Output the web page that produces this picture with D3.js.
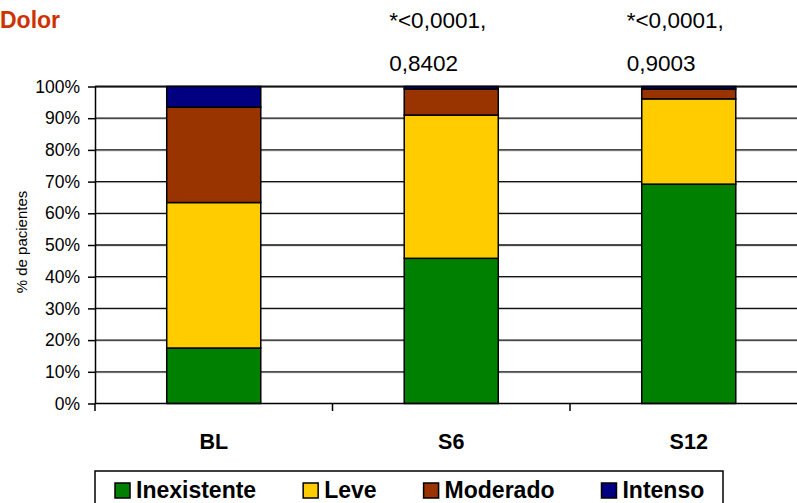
<!DOCTYPE html>
<html>
<head>
<meta charset="utf-8">
<script src="https://cdn.jsdelivr.net/npm/d3@7"></script>
<style>
  html, body { margin: 0; padding: 0; background: #fff; }
  svg { display: block; font-family: "Liberation Sans", Arial, sans-serif; }
</style>
</head>
<body>
<svg id="chart" width="797" height="503"></svg>
<script>
const categories = ["BL", "S6", "S12"];
const seriesNames = ["Inexistente", "Leve", "Moderado", "Intenso"];
const inexistente = [17.5, 45.8, 69.2];
const leve = [45.9, 45.2, 26.9];
const moderado = [30.1, 8.2, 3.1];
const intenso = [6.5, 0.8, 0.8];
const yTicks = [0, 10, 20, 30, 40, 50, 60, 70, 80, 90, 100];
const annotations = [
  { cat: "S6", lines: ["*<0,0001,", "0,8402"] },
  { cat: "S12", lines: ["*<0,0001,", "0,9003"] }
];
const colors = ["#008000", "#FFCC00", "#993300", "#000080"];
const chartTitle = "Dolor";
const yTitle = "% de pacientes";

const svg = d3.select("#chart");
const mLeft = 95, mRight = 807.5, mTop = 86.5, mBottom = 403.5;

const x = d3.scaleBand().domain(categories).range([mLeft, mRight]).padding(0);
const y = d3.scaleLinear().domain([0, 100]).range([mBottom, mTop]);
const barFrac = 0.396;
const bw = x.bandwidth() * barFrac;
const bx = c => x(c) + (x.bandwidth() - bw) / 2;

// gridlines
svg.append("g").selectAll("line").data(yTicks.filter(d => d > 0)).join("line")
  .attr("x1", mLeft).attr("x2", 797)
  .attr("y1", d => y(d) + 1).attr("y2", d => y(d) + 1)
  .attr("stroke", "#c8c8c8").attr("stroke-width", 1);
svg.append("g").selectAll("line").data(yTicks.filter(d => d > 0)).join("line")
  .attr("x1", mLeft).attr("x2", 797)
  .attr("y1", d => y(d)).attr("y2", d => y(d))
  .attr("stroke", "#111").attr("stroke-width", d => d === 100 ? 2 : 1.3);

// stacked data
const rows = categories.map((c, i) => ({
  cat: c, Inexistente: inexistente[i], Leve: leve[i], Moderado: moderado[i], Intenso: intenso[i]
}));
const stack = d3.stack().keys(seriesNames)(rows);

svg.append("g").selectAll("g").data(stack).join("g")
  .attr("fill", (d, i) => colors[i])
  .selectAll("rect").data(d => d).join("rect")
  .attr("x", d => bx(d.data.cat))
  .attr("width", bw)
  .attr("y", d => y(d[1]))
  .attr("height", d => y(d[0]) - y(d[1]))
  .attr("stroke", "#000").attr("stroke-width", 1.5);

// y axis
const yAxis = d3.axisLeft(y).tickValues(yTicks).tickFormat(d => d + "%").tickSize(7).tickSizeOuter(0);
const gy = svg.append("g").attr("transform", `translate(${mLeft},0)`).call(yAxis);
gy.select(".domain").attr("stroke", "#000").attr("stroke-width", 1.5);
gy.selectAll(".tick line").attr("stroke", "#000").attr("stroke-width", 1.5);
gy.selectAll(".tick text").attr("x", -15).attr("font-size", 17.5)
  .attr("font-family", "'Liberation Sans', Arial, sans-serif").attr("fill", "#000");

// x axis
const gx = svg.append("g").attr("transform", `translate(0,${mBottom})`);
gx.append("line").attr("x1", mLeft).attr("x2", 797).attr("y1", 0).attr("y2", 0)
  .attr("stroke", "#000").attr("stroke-width", 1.5);
const bounds = categories.map(c => x(c)).concat([x(categories[categories.length - 1]) + x.bandwidth()]);
gx.selectAll("line.tk").data(bounds).join("line").attr("class", "tk")
  .attr("x1", d => d).attr("x2", d => d).attr("y1", 0).attr("y2", 7.5)
  .attr("stroke", "#000").attr("stroke-width", 1.5);
gx.selectAll("text").data(categories).join("text")
  .attr("x", d => x(d) + x.bandwidth() / 2).attr("y", 45.5)
  .attr("text-anchor", "middle").attr("font-weight", "bold").attr("font-size", 21.5)
  .text(d => d);

// y title
svg.append("text").attr("transform", "translate(27,242) rotate(-90)")
  .attr("text-anchor", "middle").attr("font-size", 15).text(yTitle);

// title
svg.append("text").attr("x", 0).attr("y", 28).attr("font-weight", "bold")
  .attr("font-size", 23).attr("fill", "#CC3300").text(chartTitle);

// annotations
annotations.forEach(a => {
  a.lines.forEach((l, i) => {
    svg.append("text").attr("x", bx(a.cat) - 15).attr("y", 27.5 + i * 43)
      .attr("font-size", 22.5).text(l);
  });
});

// legend
const lg = svg.append("g");
lg.append("rect").attr("x", 95).attr("y", 471).attr("width", 628).attr("height", 60)
  .attr("fill", "#fff").attr("stroke", "#000").attr("stroke-width", 1.5);
let lx = 115;
seriesNames.forEach((s, i) => {
  lg.append("rect").attr("x", lx).attr("y", 483).attr("width", 15).attr("height", 15)
    .attr("fill", colors[i]).attr("stroke", "#000").attr("stroke-width", 1.5);
  const t = lg.append("text").attr("x", lx + 21).attr("y", 497.5)
    .attr("font-weight", "bold").attr("font-size", 23).text(s);
  lx += 21 + t.node().getComputedTextLength() + 47;
});
</script>
</body>
</html>
